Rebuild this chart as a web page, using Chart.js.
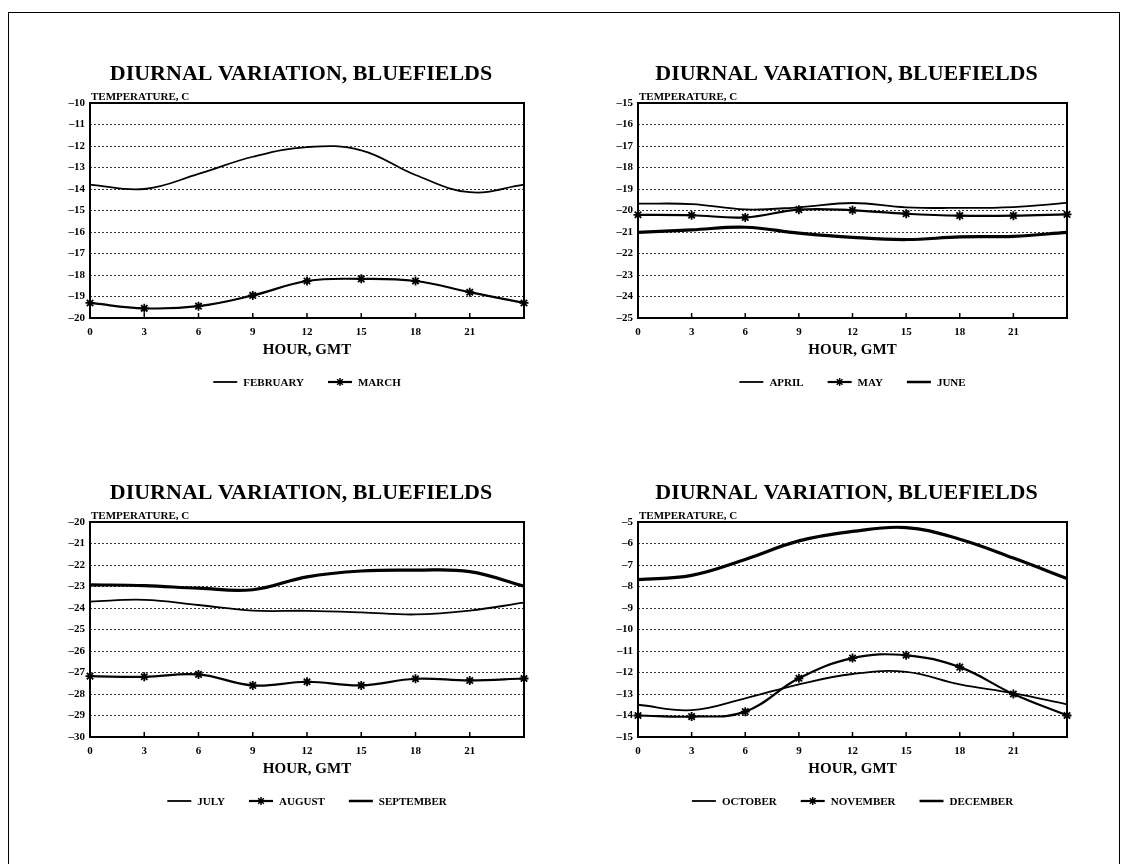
<!DOCTYPE html>
<html><head><meta charset="utf-8">
<script src="https://cdn.jsdelivr.net/npm/chart.js@4.4.1/dist/chart.umd.min.js"></script>
<style>
html,body{margin:0;padding:0;background:#fff;}
body{width:1123px;height:864px;position:relative;overflow:hidden;}
#frame{position:absolute;left:8px;top:12px;width:1110px;height:860px;border:1.5px solid #000;border-bottom:none;}
.p{position:absolute;width:560px;height:380px;}
</style></head><body>
<div id="frame"></div>
<div class="p" style="left:0;top:40px"><canvas id="c1" width="560" height="380"></canvas></div>
<div class="p" style="left:548px;top:40px"><canvas id="c2" width="560" height="380"></canvas></div>
<div class="p" style="left:0;top:459px"><canvas id="c3" width="560" height="380"></canvas></div>
<div class="p" style="left:548px;top:459px"><canvas id="c4" width="560" height="380"></canvas></div>
<script>
const hours = [0, 3, 6, 9, 12, 15, 18, 21, 24];
const hourTicks = [0, 3, 6, 9, 12, 15, 18, 21];
const chartTitle = 'DIURNAL VARIATION, BLUEFIELDS';

const february = [-13.8, -14.0, -13.3, -12.5, -12.05, -12.2, -13.35, -14.15, -13.8];
const march    = [-19.3, -19.55, -19.45, -18.95, -18.28, -18.18, -18.28, -18.8, -19.3];

const april = [-19.68, -19.7, -19.95, -19.85, -19.65, -19.85, -19.88, -19.84, -19.65];
const may   = [-20.2, -20.22, -20.32, -19.96, -19.99, -20.15, -20.24, -20.24, -20.18];
const june  = [-21.02, -20.9, -20.78, -21.05, -21.25, -21.35, -21.23, -21.2, -21.02];

const july      = [-23.7, -23.62, -23.86, -24.12, -24.13, -24.2, -24.3, -24.12, -23.75];
const august    = [-27.17, -27.2, -27.09, -27.6, -27.43, -27.6, -27.29, -27.37, -27.28];
const september = [-22.92, -22.96, -23.08, -23.15, -22.55, -22.28, -22.24, -22.31, -22.99];

const october  = [-13.5, -13.75, -13.2, -12.55, -12.07, -11.97, -12.55, -12.96, -13.48];
const november = [-14.0, -14.05, -13.82, -12.27, -11.33, -11.2, -11.75, -13.0, -14.0];
const december = [-7.68, -7.48, -6.74, -5.88, -5.44, -5.26, -5.8, -6.68, -7.63];

const FONT = '"Liberation Serif", "Times New Roman", serif';

function drawStar(ctx, x, y, r) {
  ctx.beginPath();
  for (let k = 0; k < 4; k++) {
    const ang = k * Math.PI / 4;
    ctx.moveTo(x - r * Math.cos(ang), y - r * Math.sin(ang));
    ctx.lineTo(x + r * Math.cos(ang), y + r * Math.sin(ang));
  }
  ctx.stroke();
}

const decor = {
  id: 'decor',
  afterDraw(chart, args, opts) {
    const {ctx, chartArea: a} = chart;
    ctx.save();
    ctx.strokeStyle = '#000';
    ctx.fillStyle = '#000';
    ctx.lineWidth = 2;
    ctx.strokeRect(a.left, a.top, a.right - a.left, a.bottom - a.top);
    const xs = chart.scales.x;
    ctx.lineWidth = 1.5;
    hourTicks.forEach(v => {
      if (v === 0) return;
      const px = xs.getPixelForValue(v);
      ctx.beginPath(); ctx.moveTo(px, a.bottom); ctx.lineTo(px, a.bottom - 5); ctx.stroke();
    });
    ctx.textAlign = 'center'; ctx.textBaseline = 'middle';
    ctx.font = 'bold 22px ' + FONT;
    ctx.fillText(opts.title, (a.left + a.right) / 2 + (opts.titleDx || 0), 34);
    ctx.textAlign = 'left';
    ctx.font = 'bold 11px ' + FONT;
    ctx.fillText('TEMPERATURE, C', a.left + 1, a.top - 6);
    ctx.font = 'bold 11px ' + FONT;
    const ds = chart.data.datasets;
    const sampleW = 24, gapT = 6, gapI = 24;
    const widths = ds.map(d => ctx.measureText(d.label).width);
    let total = 0;
    widths.forEach((w, i) => { total += sampleW + gapT + w + (i ? gapI : 0); });
    let x = (a.left + a.right) / 2 - total / 2;
    const y = opts.legendY;
    ds.forEach((d, i) => {
      ctx.lineWidth = Math.min(d.borderWidth, 2.5);
      ctx.beginPath(); ctx.moveTo(x, y); ctx.lineTo(x + sampleW, y); ctx.stroke();
      if (d.pointStyle === 'star') { ctx.lineWidth = 1.5; drawStar(ctx, x + sampleW / 2, y, 4); }
      ctx.fillText(d.label, x + sampleW + gapT, y + 1);
      x += sampleW + gapT + widths[i] + gapI;
    });
    ctx.restore();
  }
};

function series(label, data, extra) {
  return Object.assign({label, data: hours.map((h, i) => ({x: h, y: data[i]})), borderColor: '#000', pointRadius: 0,
    tension: 0.4, fill: false, clip: false}, extra);
}
const thin = (l, d) => series(l, d, {borderWidth: 1.8});
const marked = (l, d) => series(l, d, {borderWidth: 2.2, pointStyle: 'star', pointRadius: 4.5, pointBorderWidth: 1.8, pointBorderColor: '#000', pointBackgroundColor: '#000'});
const thick = (l, d) => series(l, d, {borderWidth: 3.2});

function makeChart(id, datasets, ymin, ymax, padRight, titleDx) {
  return new Chart(document.getElementById(id), {
    type: 'line',
    data: {datasets},
    plugins: [decor],
    options: {
      responsive: false,
      animation: false,
      layout: {padding: {top: 63, left: 40, right: padRight, bottom: 61}},
      plugins: {
        legend: {display: false},
        tooltip: {enabled: false},
        title: {display: false},
        decor: {title: chartTitle, legendY: 342, titleDx: titleDx}
      },
      scales: {
        x: {
          type: 'linear', min: 0, max: 24,
          afterBuildTicks: s => { s.ticks = hourTicks.map(v => ({value: v})); },
          afterFit: s => { s.height = 41; },
          grid: {display: false},
          border: {display: false},
          ticks: {color: '#000', padding: 0, maxRotation: 0, autoSkip: false, font: {family: FONT, weight: 'bold', size: 11}},
          title: {display: true, text: 'HOUR, GMT', color: '#000', padding: {top: 4, bottom: 0}, font: {family: FONT, weight: 'bold', size: 15}}
        },
        y: {
          min: ymin, max: ymax,
          afterFit: s => { s.width = 50; },
          ticks: {stepSize: 1, color: '#000', padding: 5, font: {family: FONT, weight: 'bold', size: 11},
            callback: v => (v < 0 ? '\u2013' + Math.abs(v) : String(v))},
          grid: {color: '#333', lineWidth: 1, drawTicks: false},
          border: {display: false, dash: [2, 2]}
        }
      }
    }
  });
}

makeChart('c1', [thin('FEBRUARY', february), marked('MARCH', march)], -20, -10, 36, -6);
makeChart('c2', [thin('APRIL', april), marked('MAY', may), thick('JUNE', june)], -25, -15, 41, -6);
makeChart('c3', [thin('JULY', july), marked('AUGUST', august), thick('SEPTEMBER', september)], -30, -20, 36, -6);
makeChart('c4', [thin('OCTOBER', october), marked('NOVEMBER', november), thick('DECEMBER', december)], -15, -5, 41, -6);
</script>
</body></html>
